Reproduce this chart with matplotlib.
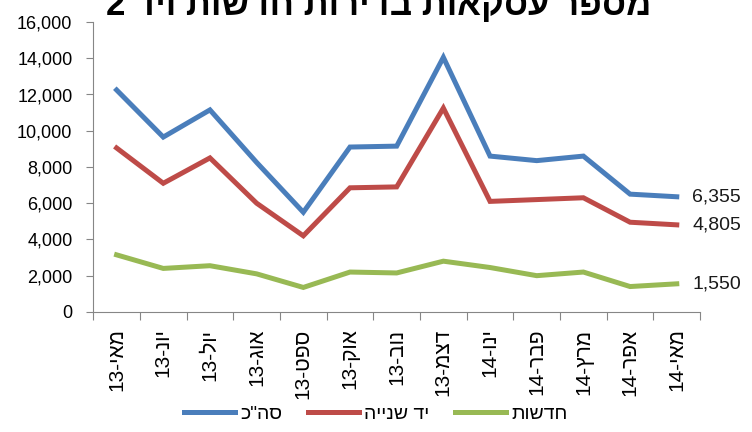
import re
import matplotlib; matplotlib.use("Agg"); import matplotlib.pyplot as plt
from matplotlib.ticker import FuncFormatter

plt.rcParams["font.family"]=["Liberation Sans","DejaVu Sans"]

def vis(s):  # עברית -> סדר חזותי (matplotlib לא עושה bidi)
    toks=re.findall(r"\d+|\D+",s)
    return "".join(t if t.isdigit() else t[::-1] for t in toks[::-1])

TITLE="מספר עסקאות בדירות חדשות ויד 2"
months=["מאי-13","יונ-13","יול-13","אוג-13","ספט-13","אוק-13","נוב-13",
        "דצמ-13","ינו-14","פבר-14","מרץ-14","אפר-14","מאי-14"]
total=[12250,9650,11150,8250,5500,9100,9150,14050,8600,8350,8600,6500,6355]
second_hand=[9050,7100,8500,6000,4200,6850,6900,11250,6100,6200,6300,4950,4805]
new=[3150,2400,2550,2100,1350,2200,2150,2800,2450,2000,2200,1400,1550]
names=['סה"כ',"יד שנייה","חדשות"]
colors=["#4A7EBB","#BE4B48","#98B954"]

fig=plt.figure(figsize=(7.52,4.32),dpi=100)
ax=fig.add_axes([0.124,0.278,0.807,0.671])
x=list(range(len(months)))
for ys,nm,c in zip([total,second_hand,new],names,colors):
    ax.plot(x,ys,color=c,lw=3.6,label=vis(nm),solid_joinstyle="miter")
    ax.text(x[-1]+0.33,ys[-1],f"{ys[-1]:,}",va="center",ha="left",fontsize=14,color="#1a1a1a")

ax.set_xlim(-0.5,len(months)-0.5); ax.set_ylim(0,16000)
ax.set_yticks(range(0,16001,2000))
ax.yaxis.set_major_formatter(FuncFormatter(lambda v,p:f"{int(v):,}"))
ax.set_xticks([i-0.5 for i in range(len(months)+1)])
ax.set_xticklabels([])
ax.set_xticks(x,minor=True)
ax.set_xticklabels([vis(m) for m in months],minor=True,rotation=90,va="top",fontsize=15)
ax.tick_params(axis="x",which="minor",length=0,pad=12)
ax.tick_params(axis="x",which="major",length=6,color="#868686",direction="out")
ax.tick_params(axis="y",length=5,color="#868686",labelsize=13,pad=10)
for s in ("top","right"): ax.spines[s].set_visible(False)
for s in ("left","bottom"): ax.spines[s].set_color("#868686")

fig.text(0.503,1-15/432,vis(TITLE),ha="center",va="baseline",fontsize=25,fontweight="bold")
fig.legend(loc="center",bbox_to_anchor=(0.50,0.042),ncol=3,frameon=False,fontsize=14,
           handlelength=2.6,columnspacing=1.3,handletextpad=0.3)
fig.savefig("out.png",dpi=100)
